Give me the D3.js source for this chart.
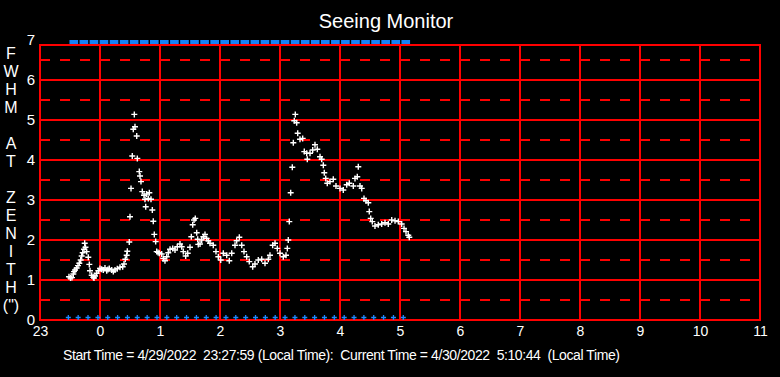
<!DOCTYPE html>
<html>
<head>
<meta charset="utf-8">
<script src="https://cdn.jsdelivr.net/npm/d3@7"></script>
<style>
  body { margin: 0; background: #000; }
  text { font-family: "Liberation Sans", Arial, sans-serif; fill: #fff; }
</style>
</head>
<body>
<svg id="chart"></svg>
<script>
// times are hours from local midnight (negative = before 0h), values are FWHM in arcsec
const seeTimes = [-0.517,-0.492,-0.467,-0.445,-0.433,-0.417,-0.388,-0.367,-0.345,-0.322,
  -0.305,-0.288,-0.267,-0.255,-0.242,-0.222,-0.195,-0.178,-0.167,-0.138,
  -0.112,-0.100,-0.083,-0.055,-0.028,0.000,0.028,0.055,0.083,0.112,
  0.133,0.155,0.195,0.222,0.250,0.288,0.333,0.378,0.400,0.422,
  0.445,0.455,0.488,0.500,0.517,0.538,0.555,0.572,0.583,0.612,
  0.622,0.655,0.667,0.683,0.705,0.733,0.750,0.762,0.778,0.805,
  0.822,0.850,0.872,0.888,0.905,0.928,0.945,0.967,0.988,1.028,
  1.055,1.083,1.112,1.138,1.167,1.212,1.250,1.288,1.333,1.362,
  1.388,1.428,1.462,1.500,1.522,1.545,1.567,1.588,1.612,1.628,
  1.638,1.667,1.695,1.722,1.750,1.778,1.805,1.833,1.888,1.933,
  1.972,2.012,2.055,2.112,2.155,2.195,2.250,2.278,2.322,2.362,
  2.400,2.445,2.488,2.545,2.583,2.638,2.695,2.750,2.805,2.833,
  2.878,2.917,2.955,3.000,3.055,3.100,3.122,3.138,3.155,3.178,
  3.205,3.222,3.238,3.255,3.278,3.295,3.333,3.378,3.405,3.445,
  3.455,3.500,3.545,3.583,3.622,3.667,3.695,3.722,3.738,3.762,
  3.788,3.833,3.888,3.933,4.000,4.055,4.112,4.155,4.222,4.250,
  4.288,4.305,4.333,4.362,4.400,4.433,4.472,4.488,4.512,4.538,
  4.583,4.638,4.695,4.750,4.805,4.862,4.917,4.972,5.028,5.067,
  5.100,5.138,5.155];
const seeValues = [1.08,1.05,1.06,1.15,1.21,1.25,1.30,1.36,1.42,1.50,
  1.60,1.68,1.77,1.92,1.82,1.71,1.57,1.39,1.23,1.12,
  1.07,1.05,1.10,1.17,1.23,1.29,1.27,1.25,1.30,1.23,
  1.26,1.29,1.25,1.21,1.25,1.28,1.32,1.33,1.40,1.52,
  1.62,1.72,1.95,2.58,3.29,4.10,4.77,5.14,4.83,4.60,
  4.04,3.71,3.60,3.46,3.21,3.12,3.02,2.83,3.15,3.04,
  3.18,3.02,2.75,2.47,2.14,1.96,1.71,1.69,1.67,1.65,
  1.54,1.48,1.58,1.68,1.77,1.79,1.75,1.83,1.90,1.83,
  1.71,1.60,1.67,1.82,2.08,2.38,2.50,2.54,2.18,2.02,
  1.89,1.90,2.00,2.08,2.14,2.04,1.98,1.92,1.87,1.71,
  1.58,1.50,1.67,1.62,1.48,1.67,1.87,1.98,2.07,1.87,
  1.71,1.58,1.46,1.33,1.40,1.50,1.52,1.42,1.52,1.62,
  1.87,1.92,1.79,1.67,1.58,1.62,1.79,2.00,2.46,3.18,
  3.82,4.43,4.98,5.14,4.93,4.67,4.52,4.54,4.21,4.17,
  4.02,4.17,4.25,4.38,4.27,4.08,4.02,3.87,3.68,3.54,
  3.42,3.46,3.52,3.35,3.29,3.25,3.38,3.42,3.35,3.54,
  3.58,3.83,3.35,3.29,3.04,2.98,2.93,2.71,2.54,2.46,
  2.35,2.38,2.40,2.43,2.40,2.50,2.48,2.46,2.40,2.29,
  2.21,2.12,2.07];

// blue markers along the bottom edge
const baseTimes = [-0.528,-0.364,-0.200,-0.035,0.129,0.293,0.457,0.621,0.786,0.950,
  1.114,1.278,1.442,1.607,1.771,1.935,2.099,2.263,2.428,2.592,
  2.756,2.920,3.084,3.249,3.413,3.577,3.741,3.905,4.070,4.234,
  4.398,4.562,4.726,4.891,5.055];
// blue blocks along the top edge
const topTimes = [-0.437,-0.269,-0.101,0.066,0.234,0.402,0.569,0.737,0.905,1.072,
  1.240,1.408,1.575,1.743,1.911,2.078,2.246,2.414,2.581,2.749,
  2.917,3.084,3.252,3.420,3.587,3.755,3.923,4.090,4.258,4.426,
  4.593,4.761,4.929,5.096];

const hourTicks = [-1,0,1,2,3,4,5,6,7,8,9,10,11];
const yTicks = [0,1,2,3,4,5,6,7];
const yTitle = ["F","W","H","M","","A","T","","Z","E","N","I","T","H","(\")"];
const title = "Seeing Monitor";
const footer = "Start Time = 4/29/2022  23:27:59 (Local Time):  Current Time = 4/30/2022  5:10:44  (Local Time)";

const W = 780, H = 377;
const svg = d3.select("#chart").attr("width", W).attr("height", H)
  .style("background", "#000");

const x = d3.scaleLinear().domain([-1, 11]).range([40, 760]);
const y = d3.scaleLinear().domain([0, 7]).range([320, 40]);
const plotTop = 45;

// grid
const grid = svg.append("g").attr("stroke", "#ff0000").attr("fill", "none")
  .attr("shape-rendering", "crispEdges");
grid.selectAll(".half").data(d3.range(0.5, 7, 1)).enter().append("line")
  .attr("x1", x(-1)).attr("x2", x(11))
  .attr("y1", d => y(d)).attr("y2", d => y(d))
  .attr("stroke-width", 1.5).attr("stroke-dasharray", "10,10");
grid.selectAll(".full").data(yTicks.filter(d => d > 0 && d < 7)).enter().append("line")
  .attr("x1", x(-1)).attr("x2", x(11))
  .attr("y1", d => y(d)).attr("y2", d => y(d))
  .attr("stroke-width", 1.5);
grid.selectAll(".vert").data(hourTicks.slice(1, -1)).enter().append("line")
  .attr("x1", d => x(d)).attr("x2", d => x(d))
  .attr("y1", plotTop).attr("y2", y(0))
  .attr("stroke-width", 1.5);
grid.append("rect")
  .attr("x", x(-1)).attr("y", plotTop)
  .attr("width", x(11) - x(-1)).attr("height", y(0) - plotTop)
  .attr("stroke-width", 1.5);

// axes (labels only)
const xAxis = d3.axisBottom(x).tickValues(hourTicks).tickSize(0).tickPadding(0)
  .tickFormat(d => (d + 24) % 24);
const gx = svg.append("g").attr("transform", `translate(0,${y(0) + 16})`).call(xAxis);
gx.select(".domain").remove();
gx.selectAll("text").attr("font-size", 14).attr("fill", "#fff").attr("dy", "0");

const yAxis = d3.axisLeft(y).tickValues(yTicks).tickSize(0).tickPadding(5)
  .tickFormat(d3.format("d"));
const gy = svg.append("g").attr("transform", `translate(40,0)`).call(yAxis);
gy.select(".domain").remove();
gy.selectAll("text").attr("font-size", 15).attr("fill", "#fff");

// blue markers
svg.append("g").selectAll("path").data(baseTimes).enter().append("path")
  .attr("d", "M-2.5,0H2.5M0,-2.5V2.5")
  .attr("transform", d => `translate(${x(d)},${y(0) - 2.5})`)
  .attr("stroke", "#1e88ff").attr("stroke-width", 1.3);

svg.append("g").selectAll("rect").data(topTimes).enter().append("rect")
  .attr("x", d => x(d - 0.072)).attr("width", d => x(d + 0.072) - x(d - 0.072))
  .attr("y", 40).attr("height", 4)
  .attr("fill", "#1581f5");

// seeing points
const pts = seeTimes.map((t, i) => ({ t: t, v: seeValues[i] }));
svg.append("g").selectAll("path").data(pts).enter().append("path")
  .attr("d", "M-3,0H3M0,-3V3")
  .attr("transform", d => `translate(${x(d.t)},${y(d.v)})`)
  .attr("stroke", "#fff").attr("stroke-width", 1.4);

// titles
svg.append("text").attr("x", 386).attr("y", 28)
  .attr("text-anchor", "middle").attr("font-size", 20).text(title);

svg.append("g").selectAll("text").data(yTitle).enter().append("text")
  .attr("x", 11).attr("y", (d, i) => 53 + 18 * i).attr("dy", "0.35em")
  .attr("text-anchor", "middle").attr("font-size", 16).text(d => d);

svg.append("text").attr("x", 63).attr("y", 360)
  .attr("font-size", 14).attr("textLength", 557).attr("xml:space", "preserve")
  .style("white-space", "pre").text(footer);
</script>
</body>
</html>
